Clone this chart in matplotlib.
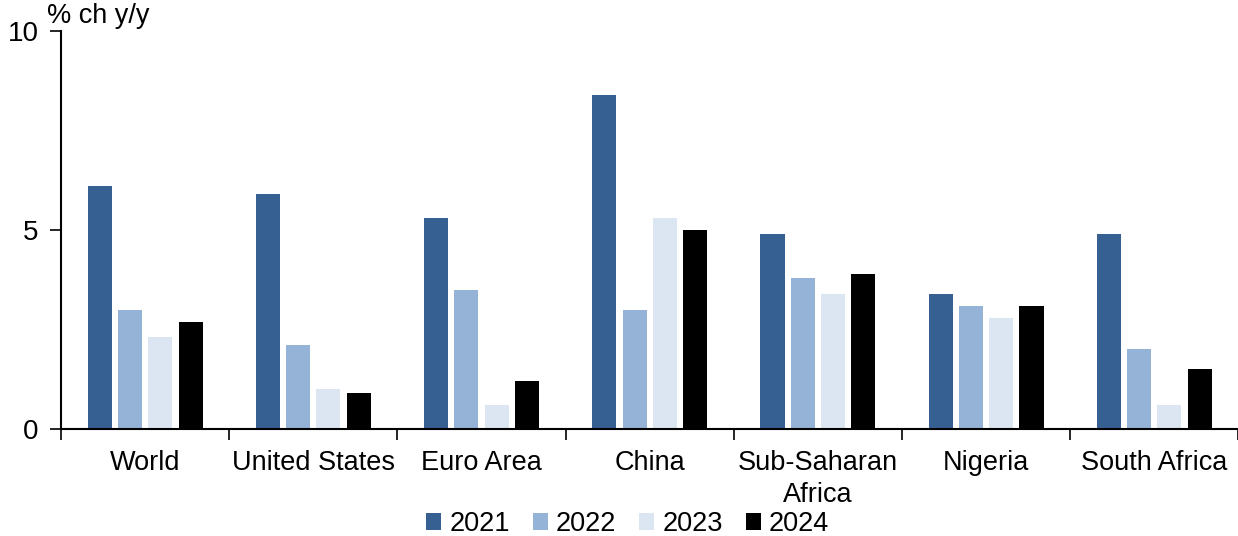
import numpy as np
import matplotlib.pyplot as plt
from matplotlib.ticker import FixedLocator

plt.rcParams["font.family"] = ["Liberation Sans", "DejaVu Sans"]

# Real GDP growth, % ch y/y
REGIONS = ["World", "United States", "Euro Area", "China",
           "Sub-Saharan\nAfrica", "Nigeria", "South Africa"]
YEARS = ["2021", "2022", "2023", "2024"]
G2021 = [6.1, 5.9, 5.3, 8.4, 4.9, 3.4, 4.9]
G2022 = [3.0, 2.1, 3.5, 3.0, 3.8, 3.1, 2.0]
G2023 = [2.3, 1.0, 0.6, 5.3, 3.4, 2.8, 0.6]
G2024 = [2.7, 0.9, 1.2, 5.0, 3.9, 3.1, 1.5]
COLORS = ["#366092", "#95B3D7", "#DCE6F2", "#000000"]


def main():
    fig = plt.figure(figsize=(12.38, 5.36), dpi=100)
    ax = fig.add_axes([0.0493, 0.1996, 0.951, 0.7425])

    x = np.arange(len(REGIONS))
    width = 0.143
    step = 0.18
    series = [G2021, G2022, G2023, G2024]
    for i, (vals, yr, col) in enumerate(zip(series, YEARS, COLORS)):
        ax.bar(x + (i - 1.5) * step, vals, width, color=col, label=yr)

    ax.set_xlim(-0.5, len(REGIONS) - 0.5)
    ax.set_ylim(0, 10)
    ax.set_yticks([0, 5, 10])
    ax.tick_params(axis="y", labelsize=20, length=8, width=1.2, pad=8)

    # category labels at centres, tick marks at the boundaries
    ax.set_xticks(x)
    ax.set_xticklabels(REGIONS, fontsize=19.5, linespacing=1.3)
    ax.tick_params(axis="x", which="major", length=0, pad=15)
    ax.xaxis.set_minor_locator(FixedLocator(np.arange(len(REGIONS) + 1) - 0.5))
    ax.tick_params(axis="x", which="minor", length=8, width=1.2)

    for side in ("top", "right"):
        ax.spines[side].set_visible(False)
    for side in ("left", "bottom"):
        ax.spines[side].set_linewidth(1.5)
    ax.spines["left"].set_zorder(5)

    fig.text(0.038, 0.945, "% ch y/y", fontsize=19.5, ha="left", va="bottom")

    ax.legend(loc="lower center", bbox_to_anchor=(0.507, -0.022),
              bbox_transform=fig.transFigure, ncol=4, frameon=False,
              fontsize=19.5, handlelength=0.55, handleheight=0.55,
              handletextpad=0.3, columnspacing=0.85, borderaxespad=0)

    fig.savefig("out.png", dpi=100)


if __name__ == "__main__":
    main()
